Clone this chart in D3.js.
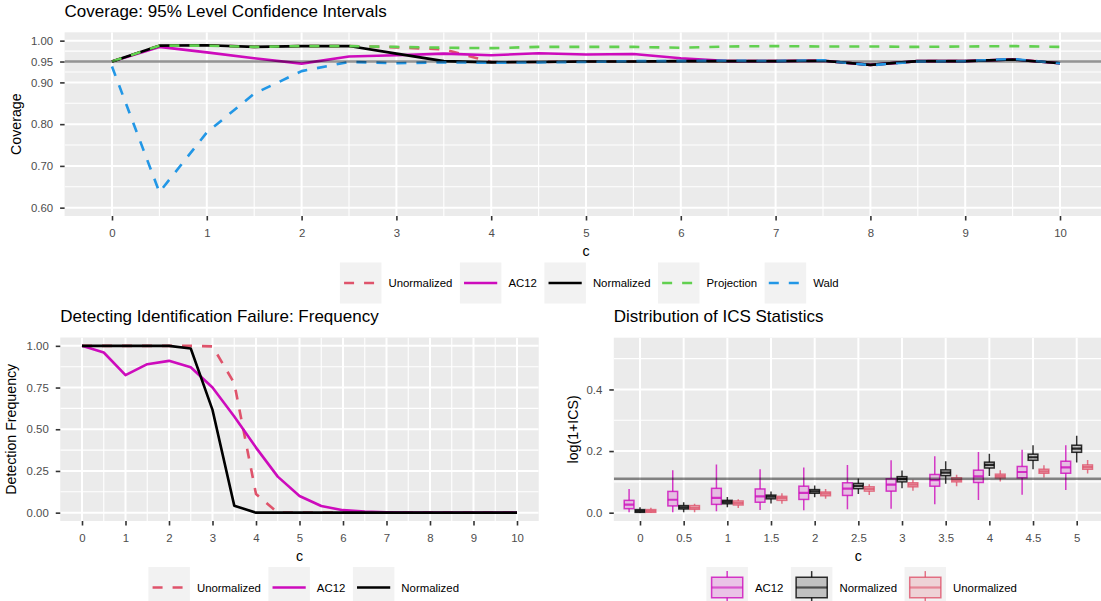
<!DOCTYPE html>
<html><head><meta charset="utf-8">
<script src="https://cdn.jsdelivr.net/npm/d3@7"></script>
<style>body{margin:0;background:#fff}svg{display:block}text{font-family:"Liberation Sans",Arial,Helvetica,sans-serif}</style>
</head><body><script>
// ---------- DATA ----------
const cValues = [0,0.5,1,1.5,2,2.5,3,3.5,4,4.5,5,5.5,6,6.5,7,7.5,8,8.5,9,9.5,10];
const covUnormalized = [0.950,0.988,0.989,0.985,0.987,0.987,0.984,0.979,0.949,0.949,0.950,0.950,0.951,0.951,0.951,0.952,0.942,0.951,0.951,0.955,0.946];
const covAC12        = [0.950,0.985,0.972,0.958,0.945,0.962,0.965,0.969,0.965,0.970,0.967,0.968,0.958,0.951,0.951,0.952,0.942,0.951,0.951,0.955,0.946];
const covNormalized  = [0.950,0.988,0.989,0.985,0.987,0.987,0.969,0.951,0.948,0.949,0.950,0.950,0.951,0.951,0.951,0.952,0.942,0.951,0.951,0.955,0.946];
const covProjection  = [0.950,0.988,0.988,0.985,0.987,0.987,0.985,0.983,0.982,0.985,0.985,0.985,0.983,0.986,0.987,0.986,0.986,0.985,0.986,0.987,0.985];
const covWald        = [0.938,0.637,0.780,0.873,0.927,0.949,0.946,0.948,0.947,0.948,0.949,0.951,0.951,0.952,0.951,0.953,0.941,0.950,0.951,0.956,0.946];
const covTicks = [0.60,0.70,0.80,0.90,0.95,1.00];
const covTickLabels = ["0.60","0.70","0.80","0.90","0.95","1.00"];
const covMinor = [0.65,0.75,0.85,0.925,0.975];
const nominalCoverage = 0.95;

const freqUnormalized = [1,1,1,1,1,1,0.997,0.776,0.112,0,0,0,0,0,0,0,0,0,0,0,0];
const freqAC12        = [1,0.96,0.824,0.89,0.91,0.872,0.75,0.576,0.39,0.216,0.10,0.04,0.015,0.006,0.002,0,0,0,0,0,0];
const freqNormalized  = [1,1,1,1,1,0.984,0.616,0.042,0,0,0,0,0,0,0,0,0,0,0,0,0];
const freqTicks = [0,0.25,0.5,0.75,1];
const freqTickLabels = ["0.00","0.25","0.50","0.75","1.00"];
const freqMinor = [0.125,0.375,0.625,0.875];
const xTicks = [0,1,2,3,4,5,6,7,8,9,10];
const xMinor = [0.5,1.5,2.5,3.5,4.5,5.5,6.5,7.5,8.5,9.5];

const icsCategories = ["0","0.5","1","1.5","2","2.5","3","3.5","4","4.5","5"];
const icsAC12Lo  = [0.001,0.001,0.005,0.009,0.008,0.011,0.013,0.027,0.041,0.058,0.074];
const icsAC12Q1  = [0.013,0.022,0.027,0.034,0.043,0.056,0.070,0.086,0.098,0.113,0.128];
const icsAC12Med = [0.026,0.042,0.048,0.053,0.064,0.078,0.091,0.106,0.118,0.132,0.147];
const icsAC12Q3  = [0.040,0.069,0.079,0.077,0.086,0.097,0.110,0.124,0.138,0.150,0.167];
const icsAC12Hi  = [0.077,0.138,0.156,0.141,0.147,0.155,0.170,0.183,0.197,0.204,0.219];
const icsNormLo  = [0.000,0.001,0.018,0.030,0.050,0.061,0.079,0.094,0.119,0.141,0.163];
const icsNormQ1  = [0.001,0.012,0.029,0.045,0.063,0.078,0.100,0.120,0.145,0.170,0.196];
const icsNormMed = [0.005,0.017,0.035,0.052,0.069,0.087,0.109,0.130,0.155,0.180,0.208];
const icsNormQ3  = [0.010,0.023,0.040,0.057,0.075,0.095,0.117,0.139,0.164,0.190,0.219];
const icsNormHi  = [0.0175,0.034,0.051,0.069,0.088,0.111,0.137,0.167,0.191,0.219,0.250];
const icsUnLo    = [0.000,0.001,0.015,0.029,0.045,0.057,0.071,0.086,0.101,0.114,0.127];
const icsUnQ1    = [0.001,0.011,0.025,0.040,0.055,0.070,0.084,0.100,0.113,0.128,0.141];
const icsUnMed   = [0.005,0.016,0.031,0.047,0.062,0.077,0.091,0.106,0.119,0.134,0.148];
const icsUnQ3    = [0.010,0.023,0.038,0.053,0.067,0.084,0.097,0.113,0.125,0.141,0.155];
const icsUnHi    = [0.016,0.029,0.044,0.063,0.077,0.092,0.107,0.123,0.138,0.154,0.171];
const icsTicks = [0,0.2,0.4];
const icsTickLabels = ["0.0","0.2","0.4"];
const icsMinor = [0.1,0.3,0.5];
const icsCritical = 0.11;

// ---------- STYLE ----------
const RED = "#DF536B", MAG = "#CD0BBC", BLK = "#000000", GRN = "#61D04F", BLU = "#2297E6";
const PANEL_BG = "#EBEBEB", KEY_BG = "#F2F2F2";
const LW = 2.6, DASH = "10,10";

const W = 1101, H = 601;
const svg = d3.select("body").append("svg").attr("width", W).attr("height", H);
svg.append("rect").attr("width", W).attr("height", H).attr("fill", "#fff");

let clipId = 0;
function makePanel(p) {
  const g = svg.append("g");
  const id = "clip" + (clipId++);
  svg.append("defs").append("clipPath").attr("id", id).append("rect")
    .attr("x", p.left).attr("y", p.top).attr("width", p.right - p.left).attr("height", p.bottom - p.top);
  g.append("rect").attr("x", p.left).attr("y", p.top).attr("width", p.right - p.left)
    .attr("height", p.bottom - p.top).attr("fill", PANEL_BG);
  const grid = g.append("g").attr("clip-path", `url(#${id})`);
  (p.yMinor||[]).forEach(v => grid.append("line").attr("x1", p.left).attr("x2", p.right)
    .attr("y1", p.y(v)).attr("y2", p.y(v)).attr("stroke", "#fff").attr("stroke-width", 1.1));
  (p.xMinor||[]).forEach(v => grid.append("line").attr("y1", p.top).attr("y2", p.bottom)
    .attr("x1", p.x(v)).attr("x2", p.x(v)).attr("stroke", "#fff").attr("stroke-width", 1.1));
  p.yMajor.forEach(v => grid.append("line").attr("x1", p.left).attr("x2", p.right)
    .attr("y1", p.y(v)).attr("y2", p.y(v)).attr("stroke", "#fff").attr("stroke-width", 2));
  p.xMajor.forEach(v => grid.append("line").attr("y1", p.top).attr("y2", p.bottom)
    .attr("x1", p.x(v)).attr("x2", p.x(v)).attr("stroke", "#fff").attr("stroke-width", 2));
  const plot = g.append("g").attr("clip-path", `url(#${id})`);

  // axes
  const ax = g.append("g").attr("transform", `translate(0,${p.bottom})`)
    .call(d3.axisBottom(p.x).tickValues(p.xMajor).tickFormat(p.xFmt || (d => d)).tickSize(4.5).tickPadding(8));
  const ay = g.append("g").attr("transform", `translate(${p.left},0)`)
    .call(d3.axisLeft(p.y).tickValues(p.yMajor).tickFormat((d, i) => p.yLabels[i]).tickSize(4.5).tickPadding(7));
  [ax, ay].forEach(a => {
    a.select(".domain").remove();
    a.selectAll(".tick line").attr("stroke", "#333333").attr("stroke-width", 1.6);
    a.selectAll(".tick text").attr("fill", "#4D4D4D").attr("font-size", 11.4)
      .attr("font-family", '"Liberation Sans",Arial,sans-serif');
  });
  // titles
  svg.append("text").attr("x", p.left).attr("y", p.titleY).attr("font-size", 17).attr("fill", "#000").text(p.title);
  svg.append("text").attr("x", (p.left + p.right) / 2).attr("y", p.bottom + 39.7).attr("text-anchor", "middle")
    .attr("font-size", 14.2).attr("fill", "#000").text("c");
  svg.append("text").attr("transform", `translate(${p.yTitleX},${(p.top + p.bottom) / 2}) rotate(-90)`)
    .attr("text-anchor", "middle").attr("font-size", 14.2).attr("fill", "#000").text(p.yTitle);
  return plot;
}

function legend(items, centerX, centerY, drawKey) {
  const KW = 41.5, KH = 41;
  const g = svg.append("g");
  // measure
  const widths = items.map(it => {
    const t = g.append("text").attr("font-size", 11.4).text(it.name);
    const w = t.node().getComputedTextLength(); t.remove(); return w;
  });
  const total = d3.sum(widths) + items.length * (KW + 7) + (items.length - 1) * 7.5;
  let x = centerX - total / 2;
  items.forEach((it, i) => {
    const kg = g.append("g").attr("transform", `translate(${x},${centerY - KH / 2})`);
    kg.append("rect").attr("width", KW).attr("height", KH).attr("fill", KEY_BG);
    drawKey(kg, it, KW, KH);
    g.append("text").attr("x", x + KW + 7).attr("y", centerY + 4).attr("font-size", 11.4).attr("fill", "#000").text(it.name);
    x += KW + 7 + widths[i] + 7.5;
  });
}
function lineKey(kg, it, w, h) {
  kg.append("line").attr("x1", w * 0.1).attr("x2", w * 0.9).attr("y1", h / 2).attr("y2", h / 2)
    .attr("stroke", it.color).attr("stroke-width", LW).attr("stroke-dasharray", it.dash ? DASH : null);
}

// ---------- TOP: Coverage ----------
{
  const left = 64.6, right = 1107.4, top = 32.3, bottom = 216;
  const x = d3.scaleLinear().domain([-0.5, 10.5]).range([left, right]);
  const y = d3.scaleLinear().domain([0.58, 1.02]).range([bottom, top]);
  const plot = makePanel({left, right, top, bottom, x, y, xMajor: xTicks, xMinor, yMajor: covTicks, yMinor: covMinor,
    yLabels: covTickLabels, title: "Coverage: 95% Level Confidence Intervals", titleY: 16.5, yTitle: "Coverage", yTitleX: 20.5});
  const series = [
    {name: "Unormalized", vals: covUnormalized, color: RED, dash: true},
    {name: "AC12", vals: covAC12, color: MAG, dash: false},
    {name: "Normalized", vals: covNormalized, color: BLK, dash: false},
    {name: "Projection", vals: covProjection, color: GRN, dash: true},
    {name: "Wald", vals: covWald, color: BLU, dash: true}
  ];
  const line = d3.line().x((d, i) => x(cValues[i])).y(d => y(d));
  series.forEach(s => plot.append("path").attr("d", line(s.vals)).attr("fill", "none").attr("stroke", s.color)
    .attr("stroke-width", LW).attr("stroke-dasharray", s.dash ? DASH : null).attr("stroke-linejoin", "round"));
  plot.append("line").attr("x1", left).attr("x2", right).attr("y1", y(nominalCoverage)).attr("y2", y(nominalCoverage))
    .attr("stroke", "#000").attr("stroke-opacity", 0.42).attr("stroke-width", 2.6);
  legend(series, 589.3, 283, lineKey);
}

// ---------- BOTTOM LEFT: Detection frequency ----------
{
  const left = 60.25, right = 538.75, top = 337.5, bottom = 521;
  const x = d3.scaleLinear().domain([-0.5, 10.5]).range([left, right]);
  const y = d3.scaleLinear().domain([-0.05, 1.05]).range([bottom, top]);
  const plot = makePanel({left, right, top, bottom, x, y, xMajor: xTicks, xMinor, yMajor: freqTicks, yMinor: freqMinor,
    yLabels: freqTickLabels, title: "Detecting Identification Failure: Frequency", titleY: 321.6, yTitle: "Detection Frequency", yTitleX: 15.8});
  const series = [
    {name: "Unormalized", vals: freqUnormalized, color: RED, dash: true},
    {name: "AC12", vals: freqAC12, color: MAG, dash: false},
    {name: "Normalized", vals: freqNormalized, color: BLK, dash: false}
  ];
  const line = d3.line().x((d, i) => x(cValues[i])).y(d => y(d));
  series.forEach(s => plot.append("path").attr("d", line(s.vals)).attr("fill", "none").attr("stroke", s.color)
    .attr("stroke-width", LW).attr("stroke-dasharray", s.dash ? DASH : null).attr("stroke-linejoin", "round"));
  legend(series, 303.7, 587.5, lineKey);
}

// ---------- BOTTOM RIGHT: ICS boxplots ----------
{
  const left = 613.8, right = 1102.9, top = 337.7, bottom = 521;
  const x = d3.scalePoint().domain(icsCategories).range([640, 1076.7]);
  const step = x.step();
  const y = d3.scaleLinear().domain([-0.027, 0.568]).range([bottom, top]);
  const plot = makePanel({left, right, top, bottom, x, y, xMajor: icsCategories, xMinor: [], yMajor: icsTicks, yMinor: icsMinor,
    yLabels: icsTickLabels, title: "Distribution of ICS Statistics", titleY: 321.6, yTitle: "log(1+ICS)", yTitleX: 578.3});
  const groups = [
    {name: "AC12", color: MAG, lo: icsAC12Lo, q1: icsAC12Q1, med: icsAC12Med, q3: icsAC12Q3, hi: icsAC12Hi},
    {name: "Normalized", color: BLK, lo: icsNormLo, q1: icsNormQ1, med: icsNormMed, q3: icsNormQ3, hi: icsNormHi},
    {name: "Unormalized", color: RED, lo: icsUnLo, q1: icsUnQ1, med: icsUnMed, q3: icsUnQ3, hi: icsUnHi}
  ];
  const bw = step * 0.25;
  groups.forEach((gr, j) => {
    icsCategories.forEach((cat, i) => {
      const cx = x(cat) + (j - 1) * bw;
      const bg = plot.append("g");
      bg.append("line").attr("x1", cx).attr("x2", cx).attr("y1", y(gr.q3[i])).attr("y2", y(gr.hi[i]))
        .attr("stroke", gr.color).attr("stroke-opacity", 0.8).attr("stroke-width", 1.5);
      bg.append("line").attr("x1", cx).attr("x2", cx).attr("y1", y(gr.q1[i])).attr("y2", y(gr.lo[i]))
        .attr("stroke", gr.color).attr("stroke-opacity", 0.8).attr("stroke-width", 1.5);
      bg.append("rect").attr("x", cx - bw / 2 + 0.6).attr("width", bw - 1.2).attr("y", y(gr.q3[i]))
        .attr("height", Math.max(0.5, y(gr.q1[i]) - y(gr.q3[i])))
        .attr("fill", gr.color).attr("fill-opacity", 0.2).attr("stroke", gr.color).attr("stroke-opacity", 0.8).attr("stroke-width", 1.5);
      bg.append("line").attr("x1", cx - bw / 2 + 0.6).attr("x2", cx + bw / 2 - 0.6).attr("y1", y(gr.med[i])).attr("y2", y(gr.med[i]))
        .attr("stroke", gr.color).attr("stroke-opacity", 0.8).attr("stroke-width", 2.2);
    });
  });
  plot.append("line").attr("x1", left).attr("x2", right).attr("y1", y(icsCritical)).attr("y2", y(icsCritical))
    .attr("stroke", "#000").attr("stroke-opacity", 0.45).attr("stroke-width", 2.6);
  legend(groups, 861.7, 587.5, (kg, it, w, h) => {
    const cx = w / 2;
    kg.append("line").attr("x1", cx).attr("x2", cx).attr("y1", h * 0.1).attr("y2", h * 0.25).attr("stroke", it.color).attr("stroke-opacity", 0.8).attr("stroke-width", 1.5);
    kg.append("line").attr("x1", cx).attr("x2", cx).attr("y1", h * 0.75).attr("y2", h * 0.9).attr("stroke", it.color).attr("stroke-opacity", 0.8).attr("stroke-width", 1.5);
    kg.append("rect").attr("x", w * 0.125).attr("width", w * 0.75).attr("y", h * 0.25).attr("height", h * 0.5)
      .attr("fill", it.color).attr("fill-opacity", 0.2).attr("stroke", it.color).attr("stroke-opacity", 0.8).attr("stroke-width", 1.5);
    kg.append("line").attr("x1", w * 0.125).attr("x2", w * 0.875).attr("y1", h / 2).attr("y2", h / 2)
      .attr("stroke", it.color).attr("stroke-opacity", 0.6).attr("stroke-width", 2.2);
  });
}
</script></body></html>
